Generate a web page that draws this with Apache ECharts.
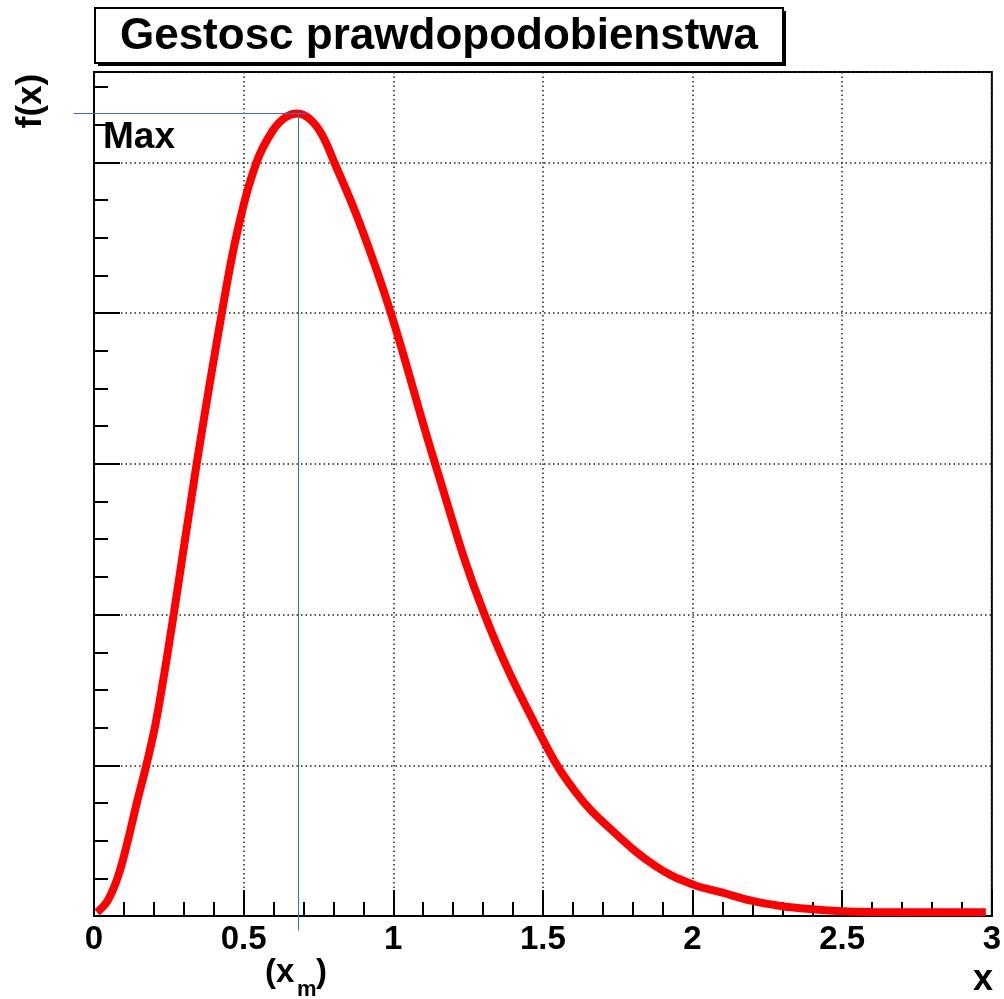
<html>
<head>
    <meta charset="utf-8">
    <title>Gestosc prawdopodobienstwa</title>
    <script src="https://cdn.jsdelivr.net/npm/echarts@6/dist/echarts.min.js"></script>
    <style>
        html, body { margin: 0; padding: 0; background: #fff; }
        #main { width: 1004px; height: 999px; }
    </style>
</head>
<body>
    <div id="main"></div>
    <script type="text/javascript">
        // wartosci
        var xValues = [0.01, 0.045, 0.08, 0.113, 0.143, 0.176, 0.21, 0.267, 0.343, 0.427, 0.48, 0.543, 0.597,
                       0.64, 0.68, 0.72, 0.76, 0.803, 0.887, 0.992, 1.14, 1.303, 1.5, 1.61,
                       1.73, 1.877, 2.0, 2.1, 2.2, 2.3, 2.4, 2.5, 2.6, 2.8, 2.98];
        var fValues = [0.025, 0.10, 0.26, 0.50, 0.75, 1.01, 1.32, 2.01, 3.00, 4.00, 4.55, 5.00, 5.21,
                       5.30, 5.325, 5.29, 5.19, 5.00, 4.60, 4.00, 3.00, 2.01, 1.17, 0.82,
                       0.57, 0.33, 0.21, 0.155, 0.10, 0.065, 0.045, 0.032, 0.027, 0.025, 0.025];

        // polozenie maksimum (linie pomocnicze)
        var xm = 0.68;
        var fmax = 5.325;
        var guideH = [[-0.07, fmax], [0.707, fmax]];
        var guideV = [[xm, fmax], [xm, -0.093]];

        var font = '"Liberation Sans", Arial, Helvetica, sans-serif';
        var dotted = { color: '#222', width: 1.5, type: [1.5, 3] };

        var curve = [];
        for (var i = 0; i < xValues.length; i++) curve.push([xValues[i], fValues[i]]);

        function txt(x, y, s, size, align) {
            return { type: 'text', x: x, y: y, z: 10,
                     style: { text: s, font: 'bold ' + size + 'px ' + font, fill: '#000',
                              textAlign: align || 'left', textVerticalAlign: 'middle' } };
        }

        var myChart = echarts.init(document.getElementById('main'));
        var option = {
            animation: false,
            grid: {
                left: 94, right: 10, top: 72, bottom: 83,
                show: true, borderColor: '#000', borderWidth: 2
            },
            xAxis: {
                type: 'value', min: 0, max: 3, interval: 0.5,
                axisLine: { lineStyle: { color: '#000', width: 2 } },
                axisTick: { inside: true, length: 26, lineStyle: { color: '#000', width: 2 } },
                minorTick: { show: true, splitNumber: 5, length: 14, lineStyle: { color: '#000', width: 2 } },
                splitLine: { show: true, lineStyle: dotted },
                axisLabel: { color: '#000', fontSize: 33, fontWeight: 'bold', fontFamily: font, margin: 7 }
            },
            yAxis: [
                {
                    type: 'value', min: 0, max: 5.6, interval: 1,
                    axisLine: { show: true, lineStyle: { color: '#000', width: 2 } },
                    axisTick: { show: true, inside: true, length: 26, lineStyle: { color: '#000', width: 2 } },
                    splitLine: { show: true, lineStyle: dotted },
                    axisLabel: { show: false }
                },
                {
                    // drobne znaczniki co 0.25
                    type: 'value', min: 0, max: 5.6, interval: 0.25, position: 'left',
                    axisLine: { show: false },
                    axisTick: { show: true, inside: true, length: 14, lineStyle: { color: '#000', width: 2 } },
                    splitLine: { show: false },
                    axisLabel: { show: false }
                }
            ],
            series: [
                {
                    type: 'line', data: curve, showSymbol: false, smooth: 0.4,
                    lineStyle: { color: '#ff0000', width: 8 }, z: 3
                }
            ],
            graphic: [
                // ramka tytulu z cieniem
                { type: 'rect', shape: { x: 98, y: 11, width: 688, height: 55 }, style: { fill: '#000' } },
                { type: 'rect', shape: { x: 95, y: 8, width: 688, height: 55 }, style: { fill: '#fff', stroke: '#000', lineWidth: 2 } },
                txt(439, 37, 'Gestosc prawdopodobienstwa', 44, 'center'),
                txt(103, 138, 'Max', 37),
                { type: 'text', x: 31, y: 101, rotation: Math.PI / 2,
                  style: { text: 'f(x)', font: 'bold 35px ' + font, fill: '#000', textAlign: 'center', textVerticalAlign: 'middle' } },
                txt(265, 973, '(x', 33),
                txt(297, 990, 'm', 22),
                txt(316, 973, ')', 33),
                txt(983, 980, 'x', 36, 'center')
            ]
        };
        myChart.setOption(option);

        // linie pomocnicze maksimum, przeliczone przez skale osi
        function guide(pts) {
            var a = myChart.convertToPixel({ gridIndex: 0 }, pts[0]);
            var b = myChart.convertToPixel({ gridIndex: 0 }, pts[1]);
            // dociagniecie do srodka piksela, zeby linia byla ostra
            var r = function (v) { return Math.round(v) + 0.5; };
            return { type: 'line', z: 5, silent: true,
                     shape: { x1: r(a[0]), y1: r(a[1]), x2: r(b[0]), y2: r(b[1]) },
                     style: { stroke: '#3a6fc0', lineWidth: 1 } };
        }
        myChart.setOption({ graphic: option.graphic.concat([guide(guideH), guide(guideV)]) });
    </script>
</body>
</html>
